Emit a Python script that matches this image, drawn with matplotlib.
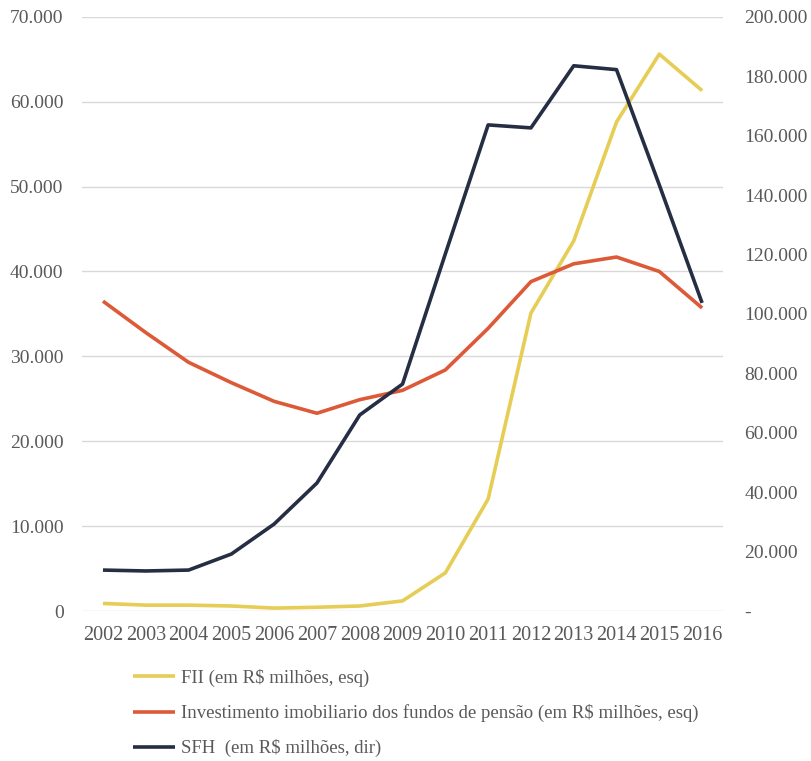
import matplotlib
matplotlib.use("Agg")
import matplotlib.pyplot as plt
from matplotlib.ticker import FuncFormatter

years = [str(y) for y in range(2002, 2017)]
fii = [900, 700, 700, 600, 350, 450, 600, 1200, 4500, 13200, 35100, 43600, 57600, 65600, 61300]
pensao = [36500, 32800, 29300, 26900, 24700, 23300, 24900, 26000, 28400, 33300, 38800, 40900, 41700, 40000, 35700]
sfh = [13800, 13500, 13800, 19200, 29300, 43100, 66000, 76400, 120200, 163600, 162600, 183500, 182200, 143400, 103700]

labels = ["FII (em R$ milhões, esq)",
          "Investimento imobiliario dos fundos de pensão (em R$ milhões, esq)",
          "SFH  (em R$ milhões, dir)"]
colors = ["#E6CD55", "#DC5A38", "#262E44"]

plt.rcParams['font.family'] = ['Liberation Serif', 'DejaVu Serif']
tc = "#595959"

fig = plt.figure(figsize=(8.12, 7.61), dpi=100)
ax = fig.add_axes([0.1005, 0.197, 0.7905, 0.781])
ax2 = ax.twinx()
x = list(range(len(years)))

l1, = ax.plot(x, fii, color=colors[0], lw=2.6, solid_capstyle='butt')
l2, = ax.plot(x, pensao, color=colors[1], lw=2.6, solid_capstyle='butt')
l3, = ax2.plot(x, sfh, color=colors[2], lw=2.6, solid_capstyle='butt')
ax2.set_zorder(ax.get_zorder() + 1)
ax2.patch.set_visible(False)

ax.set_xlim(-0.5, len(years) - 0.5)
ax.set_ylim(0, 70000)
ax2.set_ylim(0, 200000)
ax.set_yticks(range(0, 70001, 10000))
ax2.set_yticks(range(0, 200001, 20000))
fmt = lambda v, p: "0" if v == 0 else f"{int(v):,}".replace(",", ".")
fmt2 = lambda v, p: "-" if v == 0 else f"{int(v):,}".replace(",", ".")
ax.yaxis.set_major_formatter(FuncFormatter(fmt))
ax2.yaxis.set_major_formatter(FuncFormatter(fmt2))
ax.set_xticks(x)
ax.set_xticklabels(years)
ax.grid(axis='y', color='#D9D9D9', lw=1)
ax.set_axisbelow(True)
for a in (ax, ax2):
    for s in a.spines.values():
        s.set_visible(False)
    a.tick_params(length=0, labelsize=14, labelcolor=tc)
ax.tick_params(axis='y', pad=13)
ax2.tick_params(axis='y', pad=15)
ax.tick_params(axis='x', pad=11, labelsize=14.5)

fig.legend([l1, l2, l3], labels, loc='upper left', bbox_to_anchor=(0.155, 0.131),
           frameon=False, fontsize=13.5, labelcolor=tc, handlelength=2.2,
           handletextpad=0.35, labelspacing=0.92, borderaxespad=0)

fig.savefig("out.png", dpi=100, facecolor='white')
